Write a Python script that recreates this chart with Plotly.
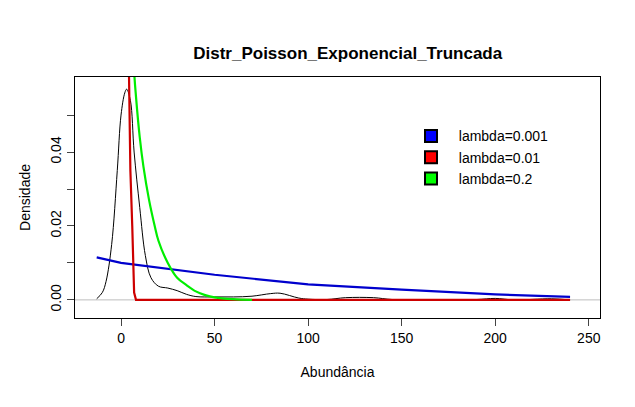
import plotly.graph_objects as go

# observed density (black)
dens_x = [-13, -10, -8, -5, -2, 0, 2, 3, 5, 7, 10, 13, 16, 20, 25, 30, 35, 40, 50, 60, 70, 80, 85, 95,
          100, 110, 120, 135, 145, 170, 190, 200, 210, 230, 240]
dens_y = [0.0003, 0.002, 0.005, 0.015, 0.035, 0.050, 0.056, 0.057, 0.054, 0.040, 0.025, 0.012, 0.006,
          0.0037, 0.0032, 0.0025, 0.0015, 0.0009, 0.0008, 0.0008, 0.001, 0.0017, 0.0018, 0.0005,
          0.0002, 0.0001, 0.0006, 0.0006, 0.0001, 0.0, 0.0001, 0.0004, 0.0, 0.0003, 0.0]

blue_x = [-13, 0, 50, 100, 150, 200, 240]
blue_y = [0.0115, 0.0100, 0.0068, 0.0042, 0.0028, 0.0015, 0.0008]

red_x = [4, 4.5, 5, 6, 7, 8, 50, 100, 150, 200, 240]
red_y = [0.07, 0.05, 0.035, 0.02, 0.002, 0.0, 0.0, 0.0, 0.0, 0.0, 0.0]

green_x = [6, 7, 8, 10, 12, 15, 18, 20, 25, 30, 35, 40, 45, 50, 60, 70]
green_y = [0.08, 0.062, 0.055, 0.044, 0.036, 0.027, 0.020, 0.016, 0.010, 0.006, 0.004, 0.0023, 0.0013,
           0.0007, 0.0002, 0.0]

labels = ["lambda=0.001", "lambda=0.01", "lambda=0.2"]
colors = ["#0000ff", "#ff0000", "#00ff00"]
line_colors = ["#0000cd", "#cd0000", "#00ee00"]

fig = go.Figure()
fig.add_trace(go.Scatter(x=[-30, 260], y=[0, 0], mode="lines", line=dict(color="#bebebe", width=1),
                         showlegend=False, hoverinfo="skip"))
fig.add_trace(go.Scatter(x=dens_x, y=dens_y, mode="lines", line=dict(color="black", width=1, shape="spline"),
                         showlegend=False))
for xs, ys, c, sh in [(blue_x, blue_y, line_colors[0], "linear"), (red_x, red_y, line_colors[1], "linear"),
                      (green_x, green_y, line_colors[2], "spline")]:
    fig.add_trace(go.Scatter(x=xs, y=ys, mode="lines", line=dict(color=c, width=2.2, shape=sh),
                             showlegend=False))
for lab, c in zip(labels, colors):
    fig.add_trace(go.Scatter(x=[None], y=[None], mode="markers", name="  " + lab,
                             marker=dict(symbol="square", size=11, color=c, line=dict(color="black", width=1))))

fig.update_layout(
    width=635, height=407, paper_bgcolor="white", plot_bgcolor="white",
    margin=dict(l=67, r=43, t=69, b=97, autoexpand=False),
    font=dict(family="Liberation Sans, Arial", size=14, color="black"),
    title=dict(text="<b>Distr_Poisson_Exponencial_Truncada</b>", x=0.535, xanchor="center", y=0.905,
               font=dict(size=17)),
    showlegend=True,
    legend=dict(x=0.64, y=0.82, xanchor="left", yanchor="top", bgcolor="rgba(0,0,0,0)",
                font=dict(size=14), itemsizing="constant", tracegroupgap=0),
    xaxis=dict(range=[-24.6, 256], tickvals=[0, 50, 100, 150, 200, 250], showgrid=False, zeroline=False,
               showline=True, mirror=True, linecolor="black", ticks="outside", ticklen=7,
               title=dict(text="Abundância", standoff=22, font=dict(size=14))),
    yaxis=dict(range=[-0.0049, 0.0603], tickvals=[0, 0.01, 0.02, 0.03, 0.04, 0.05],
               ticktext=["0.00", "", "0.02", "", "0.04", ""], tickangle=-90, showgrid=False, zeroline=False,
               showline=True, mirror=True, linecolor="black", ticks="outside", ticklen=7,
               title=dict(text="Densidade", standoff=14, font=dict(size=14))),
)
fig.write_html("out.html")
